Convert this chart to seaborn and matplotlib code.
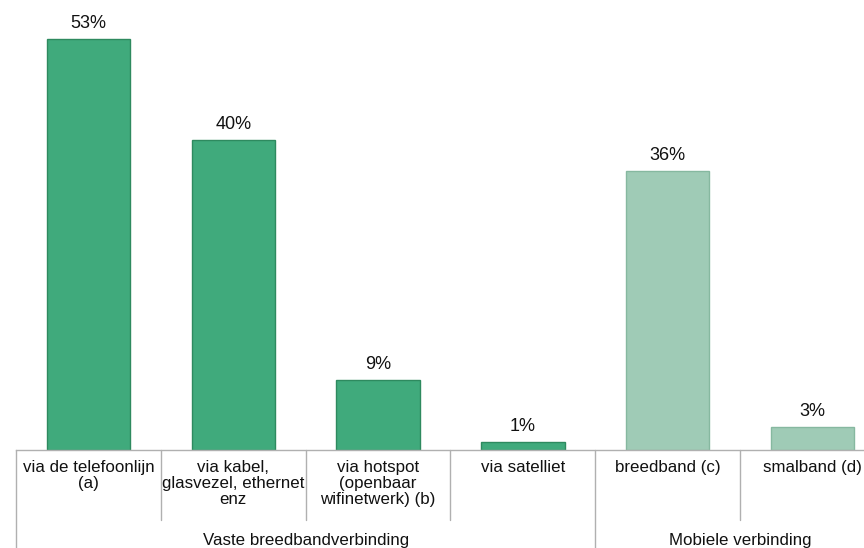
import matplotlib
matplotlib.use("Agg")
import matplotlib.pyplot as plt
import seaborn as sns
import pandas as pd
from matplotlib.transforms import blended_transform_factory

categories = ["via de telefoonlijn\n(a)", "via kabel,\nglasvezel, ethernet\nenz",
              "via hotspot\n(openbaar\nwifinetwerk) (b)", "via satelliet",
              "breedband (c)", "smalband (d)"]
values = [53, 40, 9, 1, 36, 3]
groups = ["Vaste breedbandverbinding"] * 4 + ["Mobiele verbinding"] * 2
group_labels = ["Vaste breedbandverbinding", "Mobiele verbinding"]

sns.set_theme(style="white")
plt.rcParams['font.family'] = ['Liberation Sans', 'DejaVu Sans']

df = pd.DataFrame({"cat": categories, "val": values, "grp": groups})
palette = {"Vaste breedbandverbinding": "#40aa7c", "Mobiele verbinding": "#9fcbb6"}

fig = plt.figure(figsize=(8.64, 5.48), dpi=100)
W, H = 864, 548
base_px = 450
ax = fig.add_axes([16 / W, (H - base_px) / H, (885 - 16) / W, base_px / H])
sns.barplot(data=df, x="cat", y="val", hue="grp", palette=palette, dodge=False,
            width=0.575, legend=False, ax=ax, saturation=1)
for p, g in zip(ax.patches, groups):
    p.set_edgecolor("#2e8a5f" if g == group_labels[0] else "#86b8a0")
    p.set_linewidth(1.0)

ax.set_ylim(0, 58)
ax.set_xlim(-0.5, 5.5)
for s in ["top", "right", "left"]:
    ax.spines[s].set_visible(False)
ax.spines["bottom"].set_color("#b0b0b0")
ax.spines["bottom"].set_linewidth(1)
ax.set_xticks([])
ax.set_yticks([])
ax.set_xlabel("")
ax.set_ylabel("")

for i, v in enumerate(values):
    ax.annotate(f"{v}%", (i, v), xytext=(0, 5), textcoords="offset points",
                ha="center", va="bottom", fontsize=13, color="#111111")

trans = blended_transform_factory(ax.transData, ax.transAxes)
px2ax = 1.0 / base_px
for xb in [-0.5, 0.5, 1.5, 2.5, 3.5, 4.5, 5.5]:
    full = xb in (-0.5, 3.5, 5.5)
    yend = -98 * px2ax if full else -70 * px2ax
    ax.plot([xb, xb], [0, yend], transform=trans, color="#b0b0b0", lw=1, clip_on=False)

for i, c in enumerate(categories):
    ax.text(i, -10 * px2ax, c, transform=trans, ha="center", va="top",
            fontsize=12.2, color="#111111", linespacing=1.08)

ax.text(1.5, -90 * px2ax, group_labels[0], transform=trans, ha="center", va="center",
        fontsize=12.2, color="#111111")
ax.text(4.5, -90 * px2ax, group_labels[1], transform=trans, ha="center", va="center",
        fontsize=12.2, color="#111111")

fig.savefig("out.png", dpi=100)
